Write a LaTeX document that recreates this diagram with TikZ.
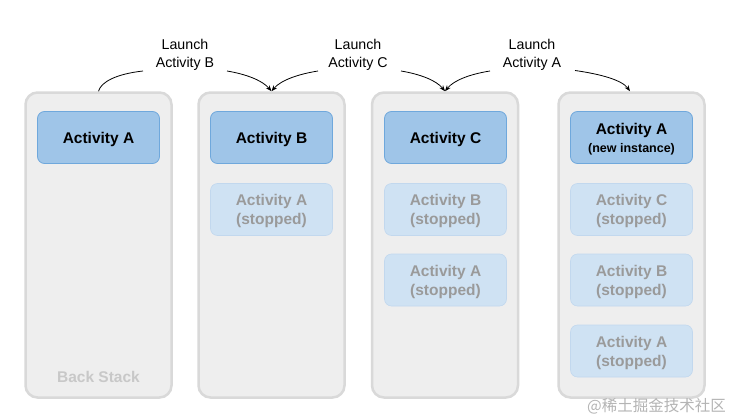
\documentclass[tikz,border=0pt]{standalone}
\usepackage{fontspec}
\setmainfont{Liberation Sans}
\newfontfamily\cjk{Noto Sans CJK SC}
\usetikzlibrary{arrows.meta}
\definecolor{colfill}{HTML}{EEEEEE}
\definecolor{colline}{HTML}{D9D9D9}
\definecolor{actfill}{HTML}{9FC5E8}
\definecolor{actline}{HTML}{6FA8DC}
\definecolor{stopfill}{HTML}{CFE2F3}
\definecolor{stopline}{HTML}{C2D8EE}
\definecolor{stoptext}{HTML}{9A9A9A}
\definecolor{bstext}{HTML}{C8C8C8}
\definecolor{wmtext}{HTML}{B4B4B4}
\begin{document}
\begin{tikzpicture}[x=1pt,y=-1pt,
  column/.style={draw=colline, fill=colfill, line width=2.5pt, rounded corners=12pt,
    minimum width=146pt, minimum height=305pt, inner sep=0pt},
  active/.style={draw=actline, fill=actfill, line width=0.8pt, rounded corners=7pt,
    minimum width=122pt, minimum height=52pt, inner sep=0pt, align=center, text depth=0pt,
    font=\fontsize{15.5}{18}\selectfont\bfseries, text=black},
  stopped/.style={draw=stopline, fill=stopfill, line width=0.6pt, rounded corners=7pt,
    minimum width=122pt, minimum height=52pt, inner sep=0pt, align=center, text depth=0pt,
    font=\fontsize{15.5}{19}\selectfont\bfseries, text=stoptext},
  launch/.style={align=center, font=\fontsize{14.2}{18}\selectfont, inner sep=0pt, text depth=0pt},
  conn/.style={line width=0.8pt, black},
  tip/.style={conn, -{Stealth[length=6pt,width=4.5pt]}}
]
\useasboundingbox (0,0) rectangle (731,420);
\fill[white] (0,0) rectangle (731,420);

% columns
\node[column] (c1) at (98.5,245) {};
\node[column] (c2) at (271.5,245) {};
\node[column] (c3) at (445,245) {};
\node[column] (c4) at (631.5,245) {};

% column 1
\node[active] (a1) at (98.5,137.5) {Activity A};
\node[font=\fontsize{15.5}{18}\selectfont\bfseries, text=bstext, text depth=0pt] (bs) at (98.5,377) {Back Stack};

% column 2
\node[active] (b1) at (271.5,137.5) {Activity B};
\node[stopped] (b2) at (271.5,209.5) {Activity A\\(stopped)};

% column 3
\node[active] (d1) at (445.5,137.5) {Activity C};
\node[stopped] (d2) at (445.5,209.5) {Activity B\\(stopped)};
\node[stopped] (d3) at (445.5,280) {Activity A\\(stopped)};

% column 4
\node[active] (e1) at (631.5,137.5) {Activity A\\{\fontsize{12.5}{15}\selectfont (new instance)}};
\node[stopped] (e2) at (631.5,209.5) {Activity C\\(stopped)};
\node[stopped] (e3) at (631.5,280) {Activity B\\(stopped)};
\node[stopped] (e4) at (631.5,351) {Activity A\\(stopped)};

% launch labels
\node[launch] (l1) at (185,53) {Launch\\Activity B};
\node[launch] (l2) at (358,53) {Launch\\Activity C};
\node[launch] (l3) at (532,53) {Launch\\Activity A};

% connector end points near labels
\coordinate (s1) at (143,71);
\coordinate (s2) at (227,71);
\coordinate (s3) at (318,71);
\coordinate (s4) at (401,71);
\coordinate (s5) at (490,71);
\coordinate (s6) at (575,70.5);

% connectors
\draw[conn] (c1.north) .. controls (101,82) and (116,74) .. (s1);
\draw[tip] (s2) .. controls (245,74) and (262,80) .. (c2.north);
\draw[tip] (s3) .. controls (299,74) and (281,80) .. (c2.north);
\draw[tip] (s4) .. controls (419,74) and (436,80) .. (c3.north);
\draw[tip] (s5) .. controls (471,74) and (454,80) .. (c3.north);
\draw[tip] (s6) .. controls (600,74) and (622,80) .. ([xshift=-1.5pt]c4.north);

% watermark
\node[anchor=east, text=wmtext, font=\cjk\fontsize{15.5}{18}\selectfont, inner sep=0pt] (wm) at (726,406) {@稀土掘金技术社区};
\end{tikzpicture}
\end{document}
